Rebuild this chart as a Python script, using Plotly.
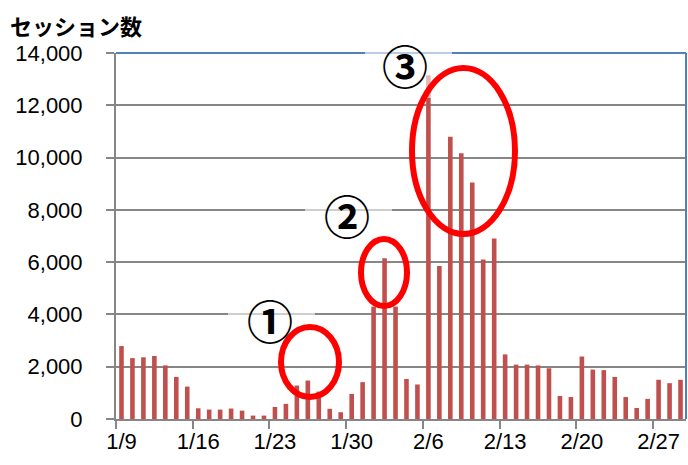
import pandas as pd
import plotly.graph_objects as go

# Daily categories (52 days starting 1/9)
dates = pd.date_range("2012-01-09", periods=52, freq="D")
days = [f"{d.month}/{d.day}" for d in dates]

# Daily session counts
sessions = [
    2790, 2330, 2360, 2410, 2050, 1610, 1240, 410, 360, 360,
    400, 320, 130, 130, 460, 580, 1280, 1470, 1050, 390,
    260, 960, 1410, 4300, 6150, 4300, 1530, 1320, 13150, 5850,
    10800, 10170, 9050, 6100, 6900, 2470, 2080, 2080, 2050, 1940,
    880, 840, 2390, 1890, 1870, 1610, 840, 420, 770, 1500,
    1370, 1500,
]

y_ticks = [0, 2000, 4000, 6000, 8000, 10000, 12000, 14000]
marks = ["①", "②", "③"]

W, H = 688, 465
L, R, T, B = 116, 2, 53, 46
pw, ph = W - L - R, H - T - B


def px(x):
    return (x - L) / pw


def py(y):
    return (H - B - y) / ph


fig = go.Figure(
    go.Bar(
        x=days,
        y=sessions,
        marker=dict(color="#C0504D", line=dict(width=0)),
        width=0.42,
    )
)

axis_gray = "#868686"
fig.update_layout(
    width=W,
    height=H,
    margin=dict(l=L, r=R, t=T, b=B),
    plot_bgcolor="white",
    paper_bgcolor="white",
    showlegend=False,
    font=dict(family="Liberation Sans, Arial, sans-serif", size=22, color="black"),
)
fig.update_xaxes(
    type="category",
    tickmode="linear",
    tick0=0,
    dtick=7,
    tickson="boundaries",
    ticks="outside",
    ticklen=8,
    tickwidth=2,
    tickcolor=axis_gray,
    tickangle=0,
    automargin=False,
    showline=True,
    linecolor=axis_gray,
    linewidth=2,
    showgrid=False,
    range=[-0.5, len(days) - 0.5],
    tickfont=dict(size=22),
    ticklabelstandoff=2,
)
fig.update_yaxes(
    range=[0, 14000],
    tickvals=y_ticks,
    tickformat=",",
    ticks="outside",
    ticklen=8,
    tickwidth=2,
    tickcolor=axis_gray,
    automargin=False,
    showline=True,
    linecolor=axis_gray,
    linewidth=2,
    showgrid=True,
    gridcolor=axis_gray,
    gridwidth=1.5,
    zeroline=False,
    tickfont=dict(size=22),
    ticklabelstandoff=19,
)

shapes = []
# plot-area border on the top and right
shapes.append(dict(type="line", xref="paper", yref="paper", x0=0, x1=1, y0=1, y1=1,
                   line=dict(color="#4F81BD", width=2), layer="above"))
shapes.append(dict(type="line", xref="paper", yref="paper", x0=1, x1=1, y0=0, y1=1,
                   line=dict(color="#4F81BD", width=2), layer="above"))

# translucent label boxes behind the circled numbers
boxes = [(228, 289, 315, 350), (305, 182, 392, 246), (365, 35, 452, 98)]
for x0, y0, x1, y1 in boxes:
    shapes.append(dict(type="rect", xref="paper", yref="paper",
                       x0=px(x0), x1=px(x1), y0=py(y1), y1=py(y0),
                       fillcolor="rgba(255,255,255,0.6)", line=dict(width=0), layer="above"))

# red highlight ellipses
ellipses = [(281, 327, 339, 397), (361, 239, 407, 306), (412, 68, 515, 234)]
for x0, y0, x1, y1 in ellipses:
    shapes.append(dict(type="circle", xref="paper", yref="paper",
                       x0=px(x0), x1=px(x1), y0=py(y1), y1=py(y0),
                       line=dict(color="#FF0000", width=6), layer="above"))
fig.update_layout(shapes=shapes)

annotations = [
    dict(text="<b>セッション数</b>", xref="paper", yref="paper", x=px(8), y=py(25),
         xanchor="left", yanchor="middle", showarrow=False,
         font=dict(family="Noto Sans CJK JP", size=22, color="black")),
]
mark_pos = [(270, 319), (347, 214), (405, 64)]
for m, (x, y) in zip(marks, mark_pos):
    annotations.append(dict(text=f"<b>{m}</b>", xref="paper", yref="paper", x=px(x), y=py(y),
                            xanchor="center", yanchor="middle", showarrow=False,
                            font=dict(family="Noto Sans CJK JP", size=46, color="black")))
fig.update_layout(annotations=annotations)

fig.write_html("out.html")
